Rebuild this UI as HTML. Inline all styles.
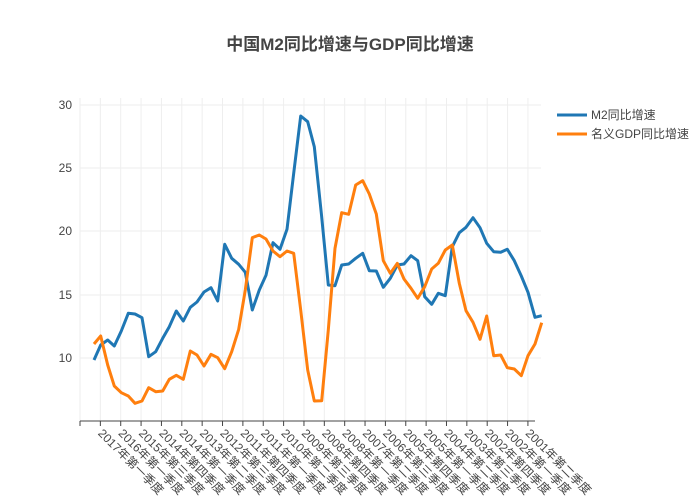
<!DOCTYPE html>
<html><head><meta charset="utf-8"><style>
body{margin:0;background:#fff;}
svg{display:block;font-family:"Liberation Sans","Noto Sans CJK SC",sans-serif;}
</style></head><body>
<svg width="700" height="500" viewBox="0 0 700 500">
<text x="350" y="50" text-anchor="middle" font-size="17" font-weight="bold" fill="#444">中国M2同比增速与GDP同比增速</text>
<g stroke="#eee" stroke-width="1">
<line x1="80" x2="541" y1="105" y2="105"/><line x1="80" x2="541" y1="168" y2="168"/><line x1="80" x2="541" y1="231" y2="231"/><line x1="80" x2="541" y1="295" y2="295"/><line x1="80" x2="541" y1="358" y2="358"/>
<g id="vg"></g>
</g>
<g font-size="12" fill="#444" text-anchor="end">
<text x="72" y="109">30</text><text x="72" y="172">25</text><text x="72" y="235">20</text><text x="72" y="299">15</text><text x="72" y="362">10</text>
</g>
<line x1="80" x2="535" y1="421" y2="421" stroke="#444" stroke-width="1"/>
<g id="ticks"></g>
<polyline fill="none" stroke="#1f77b4" stroke-width="3" stroke-linejoin="round" points="94,360 100.7,345 107.7,340 114.3,346 121.3,331 128.3,313.3 135,314 142,317.7 148.7,356.7 155.7,351.7 162.7,338.3 169.3,326.7 176.3,311 183.3,321 190.3,307.3 197,302 204,292 211,287.7 217.7,301 224.7,244.3 231.7,258.3 238.7,264.3 245.3,272.3 252.3,310 259.3,290 266,275.3 273,242.7 280,249.3 287,229.3 293.7,173.3 300.7,116 307.7,121.7 314.3,146.7 321.5,215 328.3,285 335,285.7 341.7,265 348.7,264 355.7,258.3 362.7,253.3 369.3,270.7 376.3,271 383.3,287.3 390.3,278.3 397.3,265 404,264 411,255.7 417.7,260.7 424.7,296.7 431.7,304.3 438.3,293.3 445.3,295.7 452.3,246.7 459.3,232.7 466,227.3 473,217.7 480,227.7 486.7,243.3 493.7,251.7 500.7,252.3 507.3,249.3 514.3,260.7 521.3,276 528,292.3 535,317.3 541.7,315.7"/>
<polyline fill="none" stroke="#ff7f0e" stroke-width="3" stroke-linejoin="round" points="94,344 100.7,336 107.7,365 114.3,386 121.3,392.7 128.3,396 135,403.3 142,401 148.7,387.7 155.7,391.7 162.7,391 169.3,379.3 176.3,375.3 183.3,379.3 190.3,351 197,355 204,366 211,354.3 217.7,357.7 224.7,368.7 231.7,351.7 238.7,329.3 245.3,290 252.3,237.7 259.3,235 266,239 273,251 280,256.7 287,251 293.7,253.3 300.7,310 307.7,370 314.3,401 321.7,400.7 328.3,330 335,248.3 341.7,212.7 348.7,214.3 355.7,185 362.7,180.7 369.3,194 376.3,214 383.3,260.7 390.3,273.3 397.3,263.3 404,279 411,288.3 417.7,298.3 424.7,286.7 431.7,269 438.3,263.3 445.3,250 452.3,245 459.3,283.3 466,310.7 473,322.3 480,339.3 486.7,316 493.7,355.7 500.7,355 507.3,367.7 514.3,369 521.3,375.7 528,355.7 535,344 541.7,322.7"/>
<g font-size="12" fill="#444">
<line x1="557" x2="587" y1="115" y2="115" stroke="#1f77b4" stroke-width="3"/>
<text x="591" y="119">M2同比增速</text>
<line x1="557" x2="587" y1="134" y2="134" stroke="#ff7f0e" stroke-width="3"/>
<text x="591" y="138">名义GDP同比增速</text>
</g>
</svg>
<script>
var labels=["2017年第一季度","2016年第一季度","2015年第三季度","2014年第四季度","2014年第一季度","2013年第二季度","2012年第三季度","2011年第四季度","2011年第一季度","2010年第二季度","2009年第三季度","2008年第四季度","2008年第一季度","2007年第二季度","2006年第三季度","2005年第四季度","2005年第一季度","2004年第二季度","2003年第三季度","2002年第四季度","2002年第一季度","2001年第二季度"];
var ns="http://www.w3.org/2000/svg",vg=document.getElementById("vg"),tk=document.getElementById("ticks");
for(var i=0;i<23;i++){var x=80+20.36*i;
var l=document.createElementNS(ns,"line");l.setAttribute("x1",x);l.setAttribute("x2",x);l.setAttribute("y1",98);l.setAttribute("y2",421);vg.appendChild(l);
var t=document.createElementNS(ns,"line");t.setAttribute("x1",x);t.setAttribute("x2",x);t.setAttribute("y1",421);t.setAttribute("y2",426);t.setAttribute("stroke","#444");tk.appendChild(t);
if(i>0){var s=document.createElementNS(ns,"text");s.setAttribute("transform","translate("+(x-3)+",434) rotate(45)");s.setAttribute("font-size","12");s.setAttribute("fill","#444");s.textContent=labels[i-1];tk.appendChild(s);}}
</script>
</body></html>
